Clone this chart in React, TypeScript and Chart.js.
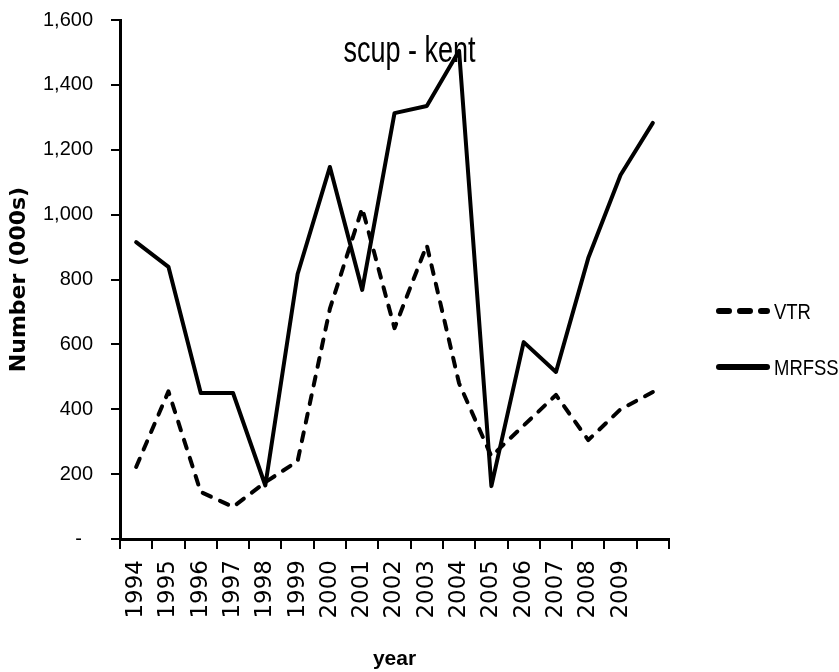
import React, { useEffect, useRef } from "react";
import { Chart, registerables } from "chart.js";

Chart.register(...registerables);

const years: string[] = [
  "1994", "1995", "1996", "1997", "1998", "1999", "2000", "2001",
  "2002", "2003", "2004", "2005", "2006", "2007", "2008", "2009", "",
];
const vtr: number[] = [222, 455, 145, 99, 175, 240, 710, 1020, 650, 906, 480, 255, 350, 444, 305, 400, 453];
const mrfss: number[] = [915, 839, 450, 450, 165, 817, 1147, 768, 1313, 1335, 1505, 163, 607, 515, 866, 1122, 1283];
const yTicksMin = 0;
const yTicksMax = 1600;
const yStep = 200;
const chartTitle = "scup - kent";
const yTitle = "Number (000s)";
const xTitle = "year";
const seriesNames: string[] = ["VTR", "MRFSS"];

const SANS = "'Liberation Sans', Arial, sans-serif";
const WIDE = "'DejaVu Sans', Verdana, sans-serif";

function condensedText(ctx: any, text: string, x: number, y: number, sx: number, align: string) {
  ctx.save();
  ctx.translate(x, y);
  ctx.scale(sx, 1);
  ctx.textAlign = align;
  ctx.fillText(text, 0, 0);
  ctx.restore();
}

const overlayPlugin = {
  id: "overlay",
  afterDraw(chart: any) {
    const { ctx, chartArea } = chart;
    ctx.save();
    ctx.fillStyle = "#000";
    // title inside plot
    ctx.font = `37px ${SANS}`;
    ctx.textBaseline = "alphabetic";
    condensedText(ctx, chartTitle, (chartArea.left + chartArea.right) / 2 + 15, chartArea.top + 42, 0.73, "center");
    // legend
    const lx = chartArea.right + 47;
    const rows = [chartArea.top + 291, chartArea.top + 347];
    chart.data.datasets.forEach((ds: any, i: number) => {
      const y = rows[i];
      ctx.beginPath();
      ctx.lineWidth = 6;
      ctx.strokeStyle = "#000";
      ctx.lineCap = "round";
      ctx.setLineDash(ds.borderDash && ds.borderDash.length ? [10, 11] : []);
      ctx.moveTo(lx + 3, y);
      ctx.lineTo(lx + 51, y);
      ctx.stroke();
      ctx.setLineDash([]);
      ctx.font = `22px ${SANS}`;
      ctx.textBaseline = "middle";
      condensedText(ctx, ds.label, lx + 58, y + 2, 0.84, "left");
    });
    ctx.restore();
  },
};

export default function App() {
  const ref = useRef<HTMLCanvasElement | null>(null);
  useEffect(() => {
    document.body.style.margin = "0";
    const canvas = ref.current;
    if (!canvas) return;
    const chart = new Chart(canvas, {
      type: "line",
      data: {
        labels: years,
        datasets: [
          {
            label: seriesNames[0],
            data: vtr,
            borderColor: "#000",
            borderWidth: 4,
            borderDash: [9, 10],
            borderCapStyle: "round",
            borderJoinStyle: "round",
            pointRadius: 0,
            tension: 0,
            fill: false,
          },
          {
            label: seriesNames[1],
            data: mrfss,
            borderColor: "#000",
            borderWidth: 4,
            borderCapStyle: "round",
            borderJoinStyle: "round",
            pointRadius: 0,
            tension: 0,
            fill: false,
          },
        ],
      },
      options: {
        animation: false,
        responsive: false,
        maintainAspectRatio: false,
        layout: { padding: { left: 0, right: 170, top: 20, bottom: 0 } },
        plugins: {
          legend: { display: false },
          title: { display: false },
          tooltip: { enabled: false },
        },
        scales: {
          x: {
            type: "category",
            offset: true,
            grid: {
              offset: true,
              drawOnChartArea: false,
              drawTicks: true,
              tickLength: 10,
              color: "#000",
              lineWidth: 2,
            },
            border: { display: true, color: "#000", width: 3 },
            ticks: {
              autoSkip: false,
              maxRotation: 90,
              minRotation: 90,
              padding: 11,
              color: "#000",
              font: { family: WIDE, size: 23 },
            },
            title: {
              display: true,
              text: xTitle,
              color: "#000",
              font: { family: SANS, size: 21, weight: "bold" },
              padding: { top: 5, bottom: 0 },
            },
            afterFit(scale: any) {
              scale.height = 133;
            },
          },
          y: {
            min: yTicksMin,
            max: yTicksMax,
            grid: {
              drawOnChartArea: false,
              drawTicks: true,
              tickLength: 9,
              color: "#000",
              lineWidth: 2,
            },
            border: { display: true, color: "#000", width: 3 },
            ticks: {
              stepSize: yStep,
              padding: 18,
              color: "#000",
              font: { family: SANS, size: 20 },
              callback: (v: any) => (Number(v) === 0 ? "-  " : Number(v).toLocaleString("en-US")),
            },
            title: {
              display: true,
              text: yTitle,
              color: "#000",
              font: { family: WIDE, size: 22, weight: "bold" },
              padding: { top: 6, bottom: 0 },
            },
            afterFit(scale: any) {
              scale.width = 120;
              scale.paddingTop = 12;
              scale.paddingBottom = 12;
            },
          },
        },
      },
      plugins: [overlayPlugin],
    });
    return () => chart.destroy();
  }, []);
  return (
    <div style={{ width: 839, height: 672 }}>
      <canvas ref={ref} width={839} height={672} style={{ display: "block" }} />
    </div>
  );
}
